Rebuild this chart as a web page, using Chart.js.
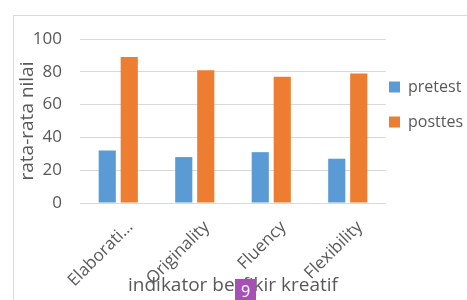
<!DOCTYPE html>
<html lang="id">
<head>
<meta charset="UTF-8">
<title>indikator berfikir kreatif</title>
<script src="https://cdn.jsdelivr.net/npm/chart.js"></script>
<style>
    body {
        margin: 0;
        background: #fff;
        font-family: 'Open Sans', sans-serif;
    }
    .wrap {
        position: relative;
        width: 467px;
        height: 300px;
        overflow: hidden;
    }
    .frame {
        position: absolute;
        left: 13px;
        top: 15px;
        width: 600px;
        height: 400px;
        border: 1px solid #d9d9d9;
    }
    canvas {
        position: absolute;
        left: 0;
        top: 0;
    }
    .badge {
        position: absolute;
        left: 235px;
        top: 279px;
        width: 21px;
        height: 21px;
        background: #a64fb5;
        color: #fff;
        font-size: 16px;
        line-height: 24px;
        text-align: center;
    }
</style>
</head>
<body>
<div class="wrap">
    <div class="frame"></div>
    <canvas id="chart" width="467" height="300"></canvas>
    <div class="badge">9</div>
</div>
<script>
    // data
    const categories = ['Elaborati…', 'Originality', 'Fluency', 'Flexibility'];
    const pretest = [32, 28, 31, 27];
    const posttes = [89, 81, 77, 79];
    const yTicks = [0, 20, 40, 60, 80, 100];

    const textColor = '#595959';
    const gridColor = '#d9d9d9';
    const family = "'Open Sans', sans-serif";

    // legend padding also sets the row spacing, so pull the legend left a bit
    const legendNudge = {
        id: 'legendNudge',
        afterLayout(chart) {
            chart.legend.left -= 16;
        }
    };

    new Chart(document.getElementById('chart'), {
        type: 'bar',
        data: {
            labels: categories,
            datasets: [{
                label: 'pretest',
                data: pretest,
                backgroundColor: '#5b9bd5',
                categoryPercentage: 0.575,
                barPercentage: 0.78
            }, {
                label: 'posttes',
                data: posttes,
                backgroundColor: '#ed7d31',
                categoryPercentage: 0.575,
                barPercentage: 0.78
            }]
        },
        options: {
            responsive: false,
            animation: false,
            layout: { padding: { left: 14, top: 39, right: 0, bottom: 0 } },
            plugins: {
                tooltip: { enabled: false },
                legend: {
                    position: 'right',
                    align: 'start',
                    maxWidth: 81,
                    title: { display: true, text: ' ', font: { size: 10 }, padding: { top: 5, bottom: 4 } },
                    labels: {
                        boxWidth: 11,
                        boxHeight: 11,
                        padding: 19,
                        color: textColor,
                        font: { family: family, size: 16 }
                    }
                }
            },
            scales: {
                x: {
                    afterFit(scale) { scale.height = 97; },
                    grid: { display: false },
                    border: { display: false },
                    ticks: {
                        color: textColor,
                        font: { family: family, size: 17 },
                        minRotation: 45,
                        maxRotation: 45,
                        autoSkip: false,
                        padding: 6,
                        labelOffset: 12
                    },
                    title: {
                        display: true,
                        text: 'indikator berfikir kreatif',
                        color: textColor,
                        font: { family: family, size: 19 },
                        padding: { top: 0, bottom: 3 }
                    }
                },
                y: {
                    min: 0,
                    max: 100,
                    afterFit(scale) { scale.width = 66; },
                    afterBuildTicks(scale) { scale.ticks = yTicks.map(v => ({ value: v })); },
                    grid: { color: gridColor, drawTicks: false },
                    border: { display: false },
                    ticks: { color: textColor, font: { family: family, size: 17 }, padding: 18 },
                    title: {
                        display: true,
                        text: 'rata-rata nilai',
                        color: textColor,
                        font: { family: family, size: 19 },
                        padding: 2
                    }
                }
            }
        },
        plugins: [legendNudge]
    });
</script>
</body>
</html>
